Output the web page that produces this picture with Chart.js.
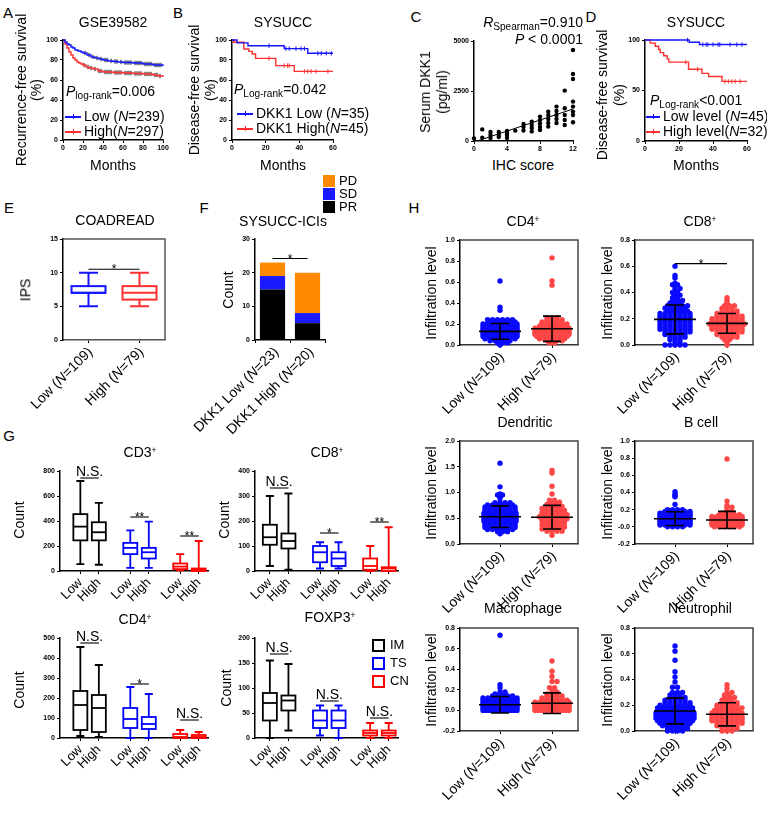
<!DOCTYPE html>
<html><head><meta charset="utf-8">
<script src="https://cdn.jsdelivr.net/npm/chart.js@4"></script>
<style>
body{margin:0;background:#fff;width:767px;height:822px;position:relative;overflow:hidden;font-family:"Liberation Sans",Arial,sans-serif;}
canvas{position:absolute;}
.t{position:absolute;white-space:nowrap;color:#000;line-height:1.1;}
sub{font-size:0.72em;vertical-align:-0.25em;line-height:0;}
sup{font-size:0.6em;vertical-align:0.55em;line-height:0;}
.ln{position:absolute;height:0;}
.sq{position:absolute;box-sizing:border-box;}
</style></head><body>
<script>
// ================= DATA =================
// Panel A (GSE39582) Kaplan-Meier
const aLowT=[0,2,4,6,8,10,12,15,18,20,24,28,32,36,40,45,50,55,60,70,80,90,100];
const aLowS=[100,98,96,95,93,92,90,89,88,87,85,83,82,81,80,79,78.5,78,77.5,77,76,75,74];
const aHighT=[0,2,4,6,8,10,12,14,16,18,20,23,26,30,35,40,50,60,70,80,90,95,100];
const aHighS=[100,96,92,88,85,82,80,78,77,76,75,73,72,71,69,68,67.5,67,66.5,66,65,64,63];
const aLowCens=[22,26,30,34,38,42,44,48,52,54,58,62,64,66,68,72,74,76,78,82,84,86,88,92,94,96,98];
const aHighCens=[21,25,28,32,36,38,42,44,46,48,52,54,56,58,62,64,66,68,72,74,76,78,82,84,86,88,92,94,97];
// Panel B (SYSUCC)
const bLowT=[0,3,9.5,31,45,60];
const bLowS=[100,97.1,94.3,91.4,86.7,86.7];
const bLowCens=[22,32,34,38,41,43,51,53,56,59];
const bHighT=[0,1,7,10,12,14,26,37,60];
const bHighS=[100,97.8,91,88.6,86,81.6,74.4,68.6,68.6];
const bHighCens=[22,31,33,34,43,45,47,50,57];
// Panel C (serum DKK1 vs IHC score)
const cX=[0,1,1,2,2,2,3,3,3,4,4,4,4,5,6,6,6,7,7,7,7,8,8,8,8,8,9,9,9,9,9,10,10,10,10,10,11,11,11,11,11,12,12,12,12,12,12,12,12];
const cY=[130,170,580,150,300,450,200,300,450,150,300,400,500,520,520,700,850,480,650,800,970,550,700,880,1050,1220,720,900,1100,1300,1470,900,1100,1300,1500,1720,800,1050,1300,1640,2520,940,1300,1470,1720,1970,3100,3350,4550];
const cFitX=[0.4,12];
const cFitY=[0,1600];
// Panel D (SYSUCC serum)
const dLowT=[0,26,32,60];
const dLowS=[100,97.8,95.5,95.5];
const dLowCens=[25,34,36,37,40,43,44,50,54,57];
const dHighT=[0,3,6,8,9,11,13,14,25.6,33.5,37.4,45.3,60];
const dHighS=[100,96.9,93.8,90.6,87.5,84.4,81.3,78.1,71,67,63.8,59,59];
const dHighCens=[24,31,47,49,51,53,56];
// Panel E (COADREAD IPS) box: [min,q1,median,q3,max]
const eLowBox=[5,7,7,8,10];
const eHighBox=[5,6,7,8,10];
const groupLabLow=[['Low (',0],['N',1],['=109)',0]];
const groupLabHigh=[['High (',0],['N',1],['=79)',0]];
// Panel F (SYSUCC-ICIs)
const fLabLow=[['DKK1 Low (',0],['N',1],['=23)',0]];
const fLabHigh=[['DKK1 High (',0],['N',1],['=20)',0]];
const fPR=[15,5];
const fSD=[4,3];
const fPD=[4,12];
// Panel G boxes (IM Low, IM High, TS Low, TS High, CN Low, CN High)
const gTicks=['Low','High','Low','High','Low','High'];
const cd3Box=[[55,245,355,455,720],[50,245,310,390,545],[25,135,185,225,325],[25,100,150,185,395],[5,15,35,60,135],[0,0,10,20,240]];
const cd8Box=[[20,105,135,185,300],[5,90,120,150,310],[10,35,75,100,115],[10,20,50,75,115],[0,5,20,50,100],[0,0,10,15,175]];
const cd4Box=[[10,40,165,235,455],[5,30,150,215,365],[0,50,95,150,255],[0,45,70,105,220],[0,0,5,20,40],[0,0,5,15,30]];
const foxBox=[[0,35,70,90,155],[15,55,75,85,148],[5,20,35,55,65],[0,20,35,55,65],[0,5,10,15,30],[0,5,10,15,30]];
// Panel H dot plots: value levels and number of patients at each level
const cd4LowLv=[0.00,0.02,0.04,0.06,0.08,0.10,0.12,0.14,0.16,0.18,0.20,0.22,0.24,0.33,0.36,0.61];
const cd4LowN=[1,3,5,7,9,11,13,13,12,11,9,6,6,1,1,1];
const cd4HighLv=[0.02,0.04,0.06,0.08,0.10,0.12,0.14,0.16,0.18,0.20,0.22,0.24,0.26,0.57,0.61,0.83];
const cd4HighN=[2,4,6,7,8,8,9,8,6,6,5,4,3,1,1,1];
const cd8LowLv=[0.00,0.02,0.04,0.06,0.08,0.10,0.12,0.14,0.16,0.18,0.20,0.22,0.24,0.26,0.28,0.30,0.32,0.34,0.36,0.38,0.40,0.43,0.46,0.47,0.51,0.53,0.60];
const cd8LowN=[5,2,3,4,5,6,7,7,7,7,7,7,7,5,5,5,3,3,2,2,2,2,2,1,1,1,1];
const cd8HighLv=[0.00,0.02,0.04,0.06,0.08,0.10,0.12,0.14,0.16,0.18,0.20,0.22,0.24,0.26,0.28,0.30,0.32,0.34,0.36];
const cd8HighN=[1,1,2,4,5,6,7,7,8,7,7,6,5,4,3,3,1,1,1];
const dcLowLv=[0.20,0.24,0.28,0.32,0.36,0.40,0.44,0.48,0.52,0.56,0.60,0.64,0.68,0.72,0.76,0.80,0.88,0.92,0.95,0.97,1.11,1.57];
const dcLowN=[1,3,6,7,7,7,8,8,8,8,8,7,7,7,6,4,1,1,2,1,1,1];
const dcHighLv=[0.17,0.25,0.29,0.33,0.37,0.41,0.45,0.49,0.53,0.57,0.61,0.65,0.69,0.73,0.77,0.81,0.85,0.97,1.12,1.38,1.43];
const dcHighN=[1,4,5,5,5,5,5,6,6,6,5,5,5,4,3,3,2,1,1,1,1];
const bcLowLv=[0.00,0.02,0.04,0.06,0.08,0.10,0.12,0.14,0.16,0.18,0.20,0.26,0.35,0.36,0.38,0.41];
const bcLowN=[4,7,10,12,14,14,13,11,9,6,4,1,1,1,1,1];
const bcHighLv=[0.00,0.02,0.04,0.06,0.08,0.10,0.12,0.14,0.16,0.18,0.20,0.23,0.25,0.30,0.79];
const bcHighN=[6,8,10,11,12,9,7,5,3,2,1,2,1,1,1];
const mcLowLv=[0.00,0.02,0.04,0.06,0.08,0.10,0.12,0.14,0.16,0.18,0.22,0.25,0.73];
const mcLowN=[12,16,18,18,14,10,8,5,3,2,1,1,1];
const mcHighLv=[0.00,0.02,0.04,0.06,0.08,0.10,0.12,0.14,0.16,0.18,0.22,0.28,0.33,0.38,0.48];
const mcHighN=[10,12,12,10,8,6,5,4,3,2,2,2,1,1,1];
const neLowLv=[0.00,0.02,0.04,0.06,0.08,0.10,0.12,0.14,0.16,0.18,0.20,0.22,0.24,0.26,0.28,0.30,0.34,0.38,0.42,0.46,0.55,0.62,0.66];
const neLowN=[4,5,6,7,8,9,9,9,8,8,7,6,5,4,3,3,2,1,1,1,1,1,1];
const neHighLv=[0.00,0.02,0.04,0.06,0.08,0.10,0.12,0.14,0.16,0.18,0.20,0.22,0.24,0.26,0.28,0.30,0.33,0.36];
const neHighN=[3,4,5,6,7,7,7,7,6,6,5,4,3,3,2,2,1,1];
const hLowMean=[0.13,0.195,0.53,0.095,0.055,0.155];
const hLowSD=[0.075,0.11,0.21,0.08,0.08,0.10];
const hHighMean=[0.155,0.165,0.52,0.08,0.07,0.13];
const hHighSD=[0.12,0.075,0.23,0.10,0.10,0.09];

// ================= HELPERS =================
const FAM='"Liberation Sans", Arial, sans-serif';
Chart.defaults.animation=false;
Chart.defaults.font.family=FAM;
Chart.defaults.color='#000';
Chart.defaults.plugins.legend.display=false;
Chart.defaults.plugins.tooltip.enabled=false;
const YW=32;
const tickFont={size:7,weight:'bold'};
const BLUE='#1414ff', RED='#ff3030';

function T(x,y,html,size,opt){
  opt=opt||{};
  const d=document.createElement('div'); d.className='t'; d.innerHTML=html;
  d.style.left=x+'px'; d.style.top=y+'px'; d.style.fontSize=size+'px';
  if(opt.lh) d.style.lineHeight=opt.lh;
  if(opt.align) d.style.textAlign=opt.align;
  let tf = opt.a==='l' ? 'translate(0,-50%)' : opt.a==='r' ? 'translate(-100%,-50%)' : 'translate(-50%,-50%)';
  if(opt.rot) tf+=' rotate(-90deg)';
  d.style.transform=tf;
  document.body.appendChild(d);
}
function legLine(x1,x2,y,col){
  const d=document.createElement('div'); d.className='ln';
  d.style.left=x1+'px'; d.style.top=(y-1)+'px'; d.style.width=(x2-x1)+'px'; d.style.borderTop='2px solid '+col;
  document.body.appendChild(d);
  const k=document.createElement('div'); k.className='ln';
  k.style.left=((x1+x2)/2)+'px'; k.style.top=(y-3)+'px'; k.style.width='0'; k.style.height='5px'; k.style.borderLeft='1px solid '+col;
  document.body.appendChild(k);
}
function sq(x,y,s,fill,border){
  const d=document.createElement('div'); d.className='sq';
  d.style.left=x+'px'; d.style.top=y+'px'; d.style.width=s+'px'; d.style.height=s+'px';
  if(fill) d.style.background=fill;
  if(border) d.style.border=border;
  document.body.appendChild(d);
}
function gridOpt(){return {drawOnChartArea:false,drawTicks:true,tickLength:3,color:'#000',lineWidth:1};}
function borderOpt(c){return {display:true,color:c||'#000',width:1.5};}
function axisY(min,max,step,fmt){
  return {type:'linear',min,max,
    ticks:{stepSize:step,font:tickFont,color:'#000',padding:2,callback:fmt||(v=>v)},
    grid:gridOpt(),border:borderOpt(),afterFit:s=>{s.width=YW;}};
}
function axisX(min,max,step){
  return {type:'linear',min,max,
    ticks:{stepSize:step,font:tickFont,color:'#000',padding:1,maxRotation:0,autoSkip:false},
    grid:gridOpt(),border:borderOpt()};
}
function axisXPos(min,max,pos,labels,size,rot,bc){
  return {type:'linear',min,max,
    afterBuildTicks:s=>{s.ticks=pos.map(v=>({value:v}));},
    ticks:{font:{size:size||7},color:'#000',padding:1,minRotation:rot||0,maxRotation:rot||0,autoSkip:false,
      callback:(v,i)=>labels?labels[i]:''},
    grid:gridOpt(),border:borderOpt(bc)};
}
// m = [left, top, right, bottom, x-axis box height]
function mk(plot,m,type,data,scales,plugins){
  const L=m[0],Tm=m[1],R=m[2],B=m[3],xh=m[4]||12;
  scales.x.afterFit=s=>{s.height=xh;};
  const c=document.createElement('canvas');
  const w=plot[2]-plot[0]+L+R, h=plot[3]-plot[1]+Tm+B;
  c.width=w;c.height=h;c.style.width=w+'px';c.style.height=h+'px';
  c.style.left=(plot[0]-L)+'px'; c.style.top=(plot[1]-Tm)+'px';
  document.body.appendChild(c);
  return new Chart(c,{type,data,options:{responsive:false,animation:false,events:[],
    layout:{padding:{left:L-YW,top:Tm,right:R,bottom:B-xh}},
    scales,plugins:{legend:{display:false},tooltip:{enabled:false}}},plugins:plugins||[]});
}
function deco(spec){
  return {id:'deco',afterDraw(ch){
    const ctx=ch.ctx, xs=ch.scales.x, ys=ch.scales.y, a=ch.chartArea;
    const px=v=>xs.getPixelForValue(v), py=v=>ys.getPixelForValue(v);
    ctx.save();
    if(spec.frame){
      ctx.strokeStyle=spec.frame; ctx.lineWidth=1.5; ctx.beginPath();
      ctx.moveTo(a.left,a.top); ctx.lineTo(a.right,a.top); ctx.lineTo(a.right,a.bottom); ctx.stroke();
    }
    (spec.boxes||[]).forEach(b=>{
      const x=px(b.x), v=b.v, hw=spec.hw, cw=spec.cw;
      ctx.strokeStyle=b.c; ctx.lineWidth=spec.lw||1.6;
      ctx.beginPath();
      ctx.moveTo(x,py(v[4])); ctx.lineTo(x,py(v[3]));
      ctx.moveTo(x,py(v[1])); ctx.lineTo(x,py(v[0]));
      ctx.moveTo(x-cw,py(v[4])); ctx.lineTo(x+cw,py(v[4]));
      ctx.moveTo(x-cw,py(v[0])); ctx.lineTo(x+cw,py(v[0]));
      ctx.stroke();
      const top=py(v[3]), bot=py(v[1]);
      ctx.fillStyle='#fff'; ctx.fillRect(x-hw,top,2*hw,Math.max(bot-top,0.1));
      ctx.strokeRect(x-hw,top,2*hw,Math.max(bot-top,0.1));
      ctx.beginPath(); ctx.moveTo(x-hw,py(v[2])); ctx.lineTo(x+hw,py(v[2])); ctx.stroke();
    });
    (spec.errs||[]).forEach(e=>{
      const x=px(e.x);
      ctx.strokeStyle='#000'; ctx.lineWidth=1.6; ctx.beginPath();
      ctx.moveTo(x-21,py(e.m)); ctx.lineTo(x+21,py(e.m));
      ctx.moveTo(x,py(e.m-e.s)); ctx.lineTo(x,py(e.m+e.s));
      ctx.moveTo(x-9,py(e.m-e.s)); ctx.lineTo(x+9,py(e.m-e.s));
      ctx.moveTo(x-9,py(e.m+e.s)); ctx.lineTo(x+9,py(e.m+e.s));
      ctx.stroke();
    });
    (spec.sigs||[]).forEach(s=>{
      const x1=px(s.x1), x2=px(s.x2), y=py(s.y);
      ctx.strokeStyle='#000'; ctx.lineWidth=1.1; ctx.beginPath(); ctx.moveTo(x1,y); ctx.lineTo(x2,y); ctx.stroke();
      ctx.fillStyle='#000'; ctx.textAlign='center'; ctx.textBaseline='alphabetic';
      if(s.t==='N.S.'){ctx.font='14px '+FAM; ctx.fillText(s.t,(x1+x2)/2,y-2);}
      else {ctx.font='12px '+FAM; ctx.fillText(s.t,(x1+x2)/2,y+4);}
    });
    (spec.rich||[]).forEach(r=>{
      const x=px(r.x)+(spec.rdx||0), y=a.bottom+(spec.rdy||9), sz=spec.rsize||14;
      ctx.save(); ctx.translate(x,y); ctx.rotate(-Math.PI/4);
      ctx.textBaseline='middle'; ctx.textAlign='left'; ctx.fillStyle='#000';
      let tot=0;
      r.s.forEach(g=>{ctx.font=(g[1]?'italic ':'')+sz+'px '+FAM; tot+=ctx.measureText(g[0]).width;});
      let cx=-tot;
      r.s.forEach(g=>{ctx.font=(g[1]?'italic ':'')+sz+'px '+FAM; ctx.fillText(g[0],cx,0); cx+=ctx.measureText(g[0]).width;});
      ctx.restore();
    });
    ctx.restore();
  }};
}
function kmAt(Tt,S,t){let s=S[0];for(let i=0;i<Tt.length;i++){if(Tt[i]<=t)s=S[i];}return s;}
function pts(X,Y){return X.map((x,i)=>({x,y:Y[i]}));}
function km(plot,xmax,xstep,yticks,curves,censCol){
  const ds=[];
  curves.forEach(c=>{
    ds.push({data:pts(c.T,c.S),showLine:true,stepped:true,borderColor:c.col,borderWidth:1.4,pointRadius:0,clip:false});
    ds.push({data:c.cens.map(t=>({x:t,y:kmAt(c.T,c.S,t)})),showLine:false,pointStyle:'line',rotation:90,pointRadius:2.2,
      borderColor:censCol||c.col,borderWidth:1,clip:false});
  });
  return mk(plot,[40,10,14,16],'scatter',{datasets:ds},{x:axisX(0,xmax,xstep),y:axisY(0,100,yticks)});
}
// horizontal dot layout (px) for rows of equal value; cap = max row width in px
function swarm(lv,ct,x0,ppu,cap){
  const out=[];
  lv.forEach((v,i)=>{
    const n=ct[i], s=Math.min(5,cap/Math.max(n-1,1)), sh=(i%2&&n>1&&n<7)?s/2:0;
    for(let j=0;j<n;j++){
      const off=(j-(n-1)/2)*s+sh;
      out.push({x:x0+off/ppu,y:v});
    }
  });
  return out;
}

// ================= PANEL LETTERS =================
T(8,13,'A',15);T(178,13,'B',15);T(416,17,'C',15);T(591,17,'D',15);
T(9,208,'E',15);T(204,208,'F',15);T(9,436,'G',15);T(414,208,'H',15);

// ================= A =================
km([63,40,163,140],100,20,20,[{T:aLowT,S:aLowS,cens:aLowCens,col:BLUE},{T:aHighT,S:aHighS,cens:aHighCens,col:RED}],'#111');
T(113,23,'GSE39582',14);
T(29,90,'Recurrence-free survival<br>(%)',14,{rot:true,lh:'15px',align:'center'});
T(113,166,'Months',14);
T(66,92,'<i>P</i><sub>log-rank</sub>=0.006',14,{a:'l'});
legLine(65,81,117,BLUE);T(84,117,'Low (<i>N</i>=239)',14,{a:'l'});
legLine(65,81,132,RED);T(84,132,'High(<i>N</i>=297)',14,{a:'l'});

// ================= B =================
km([232,40,333,140],60,20,20,[{T:bLowT,S:bLowS,cens:bLowCens,col:BLUE},{T:bHighT,S:bHighS,cens:bHighCens,col:RED}]);
T(283,23,'SYSUCC',14);
T(202,90,'Disease-free survival<br>(%)',14,{rot:true,lh:'16px',align:'center'});
T(283,166,'Months',14);
T(234,90,'<i>P</i><sub>Log-rank</sub>=0.042',14,{a:'l'});
legLine(237,253,114,BLUE);T(256,114,'DKK1 Low (<i>N</i>=35)',14,{a:'l'});
legLine(237,253,129,RED);T(256,129,'DKK1 High(<i>N</i>=45)',14,{a:'l'});

// ================= C =================
mk([474,41,573,141],[40,10,14,16],'scatter',{datasets:[
  {data:pts(cX,cY),pointRadius:2.2,backgroundColor:'#000',borderWidth:0,clip:false},
  {data:pts(cFitX,cFitY),showLine:true,borderColor:'#000',borderWidth:1,pointRadius:0,clip:false}
]},{x:axisX(0,12,4),y:axisY(0,5000,2500)});
T(583,23,'<i>R</i><sub>Spearman</sub>=0.910',14,{a:'r'});
T(583,40,'<i>P</i> &lt; 0.0001',14,{a:'r'});
T(434,92,'Serum DKK1<br>(pg/ml)',14,{rot:true,lh:'17px',align:'center'});
T(523,166,'IHC score',14);

// ================= D =================
km([645,40,747,141],60,20,50,[{T:dLowT,S:dLowS,cens:dLowCens,col:BLUE},{T:dHighT,S:dHighS,cens:dHighCens,col:RED}]);
T(696,23,'SYSUCC',14);
T(611,95,'Disease-free survival<br>(%)',14,{rot:true,lh:'17px',align:'center'});
T(696,166,'Months',14);
T(650,101,'<i>P</i><sub>Log-rank</sub>&lt;0.001',14,{a:'l'});
legLine(646,660,117,BLUE);T(663,117,'Low level (<i>N</i>=45)',14,{a:'l'});
legLine(646,660,132,RED);T(663,132,'High level(<i>N</i>=32)',14,{a:'l'});

// ================= E =================
mk([63,239,165,340],[40,12,12,90],'scatter',{datasets:[{data:[{x:0,y:eLowBox[2]},{x:1,y:eHighBox[2]}],pointRadius:0}]},
  {x:axisXPos(-0.5,1.5,[0,1],null,7,0,'#555'),y:axisY(0,15,5)},
  [deco({frame:'#555',hw:17,cw:9.5,lw:2,boxes:[{x:0,v:eLowBox,c:BLUE},{x:1,v:eHighBox,c:RED}],
    sigs:[{x1:0,x2:1,y:10.5,t:'*'}],rich:[{x:0,s:groupLabLow},{x:1,s:groupLabHigh}],rdy:10,rdx:2})]);
T(115,221,'COADREAD',14);
T(26,290,'IPS',14,{rot:true});

// ================= F =================
mk([255,239,325,340],[80,12,8,100],'bar',{labels:['Low','High'],datasets:[
  {data:fPR,backgroundColor:'#000',barPercentage:0.72,categoryPercentage:1},
  {data:fSD,backgroundColor:'#1a1aff',barPercentage:0.72,categoryPercentage:1},
  {data:fPD,backgroundColor:'#ff8a00',barPercentage:0.72,categoryPercentage:1}
]},{x:{stacked:true,ticks:{display:false},grid:gridOpt(),border:borderOpt()},
    y:Object.assign(axisY(0,30,10),{stacked:true})},
  [deco({sigs:[{x1:0,x2:1,y:24.2,t:'*'}],rich:[{x:0,s:fLabLow},{x:1,s:fLabHigh}],rdy:10,rdx:4})]);
T(283,222,'SYSUCC-ICIs',14);
T(229,290,'Count',14,{rot:true});
sq(323,175,12,'#ff8a00');T(339,181,'PD',13,{a:'l'});
sq(323,188,12,'#1a1aff');T(339,194,'SD',13,{a:'l'});
sq(323,201,12,'#000');T(339,207,'PR',13,{a:'l'});

// ================= G =================
const gPos=[0,1,2.7,3.7,5.4,6.4];
const gCols=['#000','#000','#0000ff','#0000ff','#ff0000','#ff0000'];
const GPPU=18.5;
function gPanel(c0,min,max,yTop,ymax,ystep,boxes,sigs){
  const plot=[Math.round(c0+min*GPPU),yTop,Math.round(c0+max*GPPU),yTop+100];
  mk(plot,[40,30,6,52,48],'scatter',{datasets:[{data:boxes.map((b,i)=>({x:gPos[i],y:b[2]})),pointRadius:0}]},
    {x:axisXPos(min,max,gPos,gTicks,13,45),y:axisY(0,ymax,ystep)},
    [deco({hw:7,cw:4,lw:1.8,boxes:boxes.map((b,i)=>({x:gPos[i],v:b,c:gCols[i]})),sigs})]);
}
gPanel(80,-1.1,6.9,471,800,200,cd3Box,[{x1:0,x2:1,y:744,t:'N.S.'},{x1:2.7,x2:3.7,y:432,t:'**'},{x1:5.4,x2:6.4,y:280,t:'**'}]);
gPanel(270,-0.8,6.9,471,400,100,cd8Box,[{x1:0,x2:1,y:332,t:'N.S.'},{x1:2.7,x2:3.7,y:152,t:'*'},{x1:5.4,x2:6.4,y:196,t:'**'}]);
gPanel(80,-1.1,6.9,638,500,100,cd4Box,[{x1:0,x2:1,y:475,t:'N.S.'},{x1:2.7,x2:3.7,y:270,t:'*'},{x1:5.4,x2:6.4,y:90,t:'N.S.'}]);
gPanel(270,-0.8,6.9,638,200,50,foxBox,[{x1:0,x2:1,y:168,t:'N.S.'},{x1:2.7,x2:3.7,y:74,t:'N.S.'},{x1:5.4,x2:6.4,y:40,t:'N.S.'}]);
T(140,453,'CD3<sup>+</sup>',14);T(327,453,'CD8<sup>+</sup>',14);
T(135,620,'CD4<sup>+</sup>',14);T(330,618,'FOXP3<sup>+</sup>',14);
T(20,520,'Count',14,{rot:true});T(225,520,'Count',14,{rot:true});
T(20,690,'Count',14,{rot:true});T(227,688,'Count',14,{rot:true});
sq(372,639,13,null,'2px solid #000');T(390,645,'IM',13,{a:'l'});
sq(372,657,13,null,'2px solid #0000ff');T(390,663,'TS',13,{a:'l'});
sq(372,675,13,null,'2px solid #ff0000');T(390,681,'CN',13,{a:'l'});

// ================= H =================
const HMIN=-0.77,HMAX=1.5;
const hLv=[[cd4LowLv,cd4LowN,cd4HighLv,cd4HighN],[cd8LowLv,cd8LowN,cd8HighLv,cd8HighN],[dcLowLv,dcLowN,dcHighLv,dcHighN],
  [bcLowLv,bcLowN,bcHighLv,bcHighN],[mcLowLv,mcLowN,mcHighLv,mcHighN],[neLowLv,neLowN,neHighLv,neHighN]];
const hPlots=[[460,240,578,345],[635,240,753,345],[460,441,578,544],[635,441,753,544],[460,628,578,731],[635,628,753,731]];
const hY=[[0,1.0,0.2],[0,0.8,0.2],[0,2.0,0.5],[-0.2,1.0,0.2],[-0.2,0.8,0.2],[0,0.8,0.2]];
const hCap=[34,42,32,30,34,38];
const hSig=[[],[{x1:0,x2:1,y:0.62,t:'*'}],[],[],[],[]];
hPlots.forEach((p,k)=>{
  const ppu=(p[2]-p[0])/(HMAX-HMIN);
  const L=hLv[k];
  mk(p,[40,12,10,80],'scatter',{datasets:[
    {data:swarm(L[0],L[1],0,ppu,hCap[k]),pointRadius:2.7,backgroundColor:'#0a0aff',borderWidth:0,clip:false},
    {data:swarm(L[2],L[3],1,ppu,hCap[k]),pointRadius:2.7,backgroundColor:'#ff4646',borderWidth:0,clip:false}
  ]},{x:axisXPos(HMIN,HMAX,[0,1],null,7,0,'#333'),y:axisY(hY[k][0],hY[k][1],hY[k][2],v=>v.toFixed(1))},
  [deco({frame:'#444',errs:[{x:0,m:hLowMean[k],s:hLowSD[k]},{x:1,m:hHighMean[k],s:hHighSD[k]}],sigs:hSig[k],
    rich:[{x:0,s:groupLabLow},{x:1,s:groupLabHigh}],rdy:10,rdx:2})]);
});
T(523,222,'CD4<sup>+</sup>',14);T(700,222,'CD8<sup>+</sup>',14);
T(525,423,'Dendritic',14);T(701,423,'B cell',14);
T(523,609,'Macrophage',14);T(700,609,'Neutrophil',14);
T(432,293,'Infiltration level',14,{rot:true});T(608,293,'Infiltration level',14,{rot:true});
T(432,493,'Infiltration level',14,{rot:true});T(608,493,'Infiltration level',14,{rot:true});
T(432,680,'Infiltration level',14,{rot:true});T(608,680,'Infiltration level',14,{rot:true});
</script>
</body></html>
